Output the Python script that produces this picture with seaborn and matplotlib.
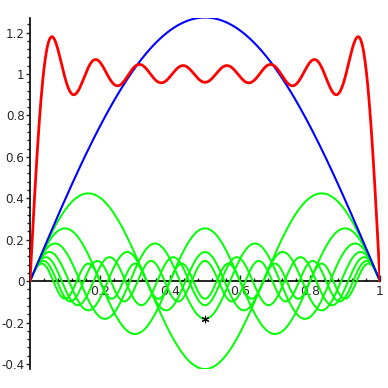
import numpy as np
import pandas as pd
import matplotlib
matplotlib.use("Agg")
import matplotlib.pyplot as plt
import seaborn as sns
from matplotlib.ticker import MultipleLocator

# Fourier terms of the square wave (odd harmonics) and their amplitudes
harmonics = [1, 3, 5, 7, 9, 11, 13, 15]
amplitudes = [1.273, 0.424, 0.255, 0.182, 0.141, 0.116, 0.098, 0.085]
marker_x = [0.5]
marker_y = [-0.182]

x_ticks = [0.2, 0.4, 0.6, 0.8, 1.0]
x_tick_labels = ["0.2", "0.4", "0.6", "0.8", "1"]
y_ticks = [-0.4, -0.2, 0, 0.2, 0.4, 0.6, 0.8, 1.0, 1.2]
y_tick_labels = ["-0.4", "-0.2", "0", "0.2", "0.4", "0.6", "0.8", "1", "1.2"]

x = np.linspace(0, 1, 801)
rows = []
for k, a in zip(harmonics, amplitudes):
    rows.append(pd.DataFrame({"x": x, "y": a * np.sin(k * np.pi * x), "curve": f"h{k}"}))
terms = pd.concat(rows, ignore_index=True)
partial = terms.groupby("x", as_index=False)["y"].sum()

sns.set_style("white")
plt.rcParams["font.family"] = ["DejaVu Sans"]

fig = plt.figure(figsize=(3.88, 3.88), dpi=100)
ax = fig.add_axes([30 / 388, 19 / 388, 350 / 388, 351.5 / 388])

green = terms[terms["curve"] != "h1"]
sns.lineplot(data=green, x="x", y="y", units="curve", estimator=None,
             color="#00ff00", linewidth=1.4, ax=ax, sort=False, zorder=3)
sns.lineplot(data=terms[terms["curve"] == "h1"], x="x", y="y",
             color="#0000ff", linewidth=1.5, ax=ax, sort=False, zorder=3)
sns.lineplot(data=partial, x="x", y="y", color="#ff0000", linewidth=2.0, ax=ax, sort=False, zorder=3)
sns.scatterplot(x=marker_x, y=marker_y, marker=(6, 2, 0), s=22, color="black",
                linewidth=0.8, ax=ax, zorder=4)

ax.set_xlim(0, 1)
ax.set_ylim(-0.424, 1.273)
ax.spines["left"].set_position(("data", 0))
ax.spines["bottom"].set_position(("data", 0))
ax.spines["top"].set_visible(False)
ax.spines["right"].set_visible(False)
for s in ("left", "bottom"):
    ax.spines[s].set_color("black")
    ax.spines[s].set_linewidth(1.2)

ax.set_xticks(x_ticks)
ax.set_xticklabels(x_tick_labels)
ax.set_yticks(y_ticks)
ax.set_yticklabels(y_tick_labels)
ax.xaxis.set_minor_locator(MultipleLocator(0.04))
ax.yaxis.set_minor_locator(MultipleLocator(0.04))
ax.tick_params(axis="x", which="major", direction="in", length=4, width=1, labelsize=9, pad=3, bottom=True)
ax.tick_params(axis="x", which="minor", direction="in", length=2, width=1, bottom=True)
ax.tick_params(axis="y", which="major", direction="out", length=3, width=1, labelsize=8.6, pad=1, left=True)
ax.tick_params(axis="y", which="minor", direction="out", length=2, width=1, left=True)
ax.set_xlabel("")
ax.set_ylabel("")
ax.grid(False)

fig.savefig("out.png", dpi=100)
